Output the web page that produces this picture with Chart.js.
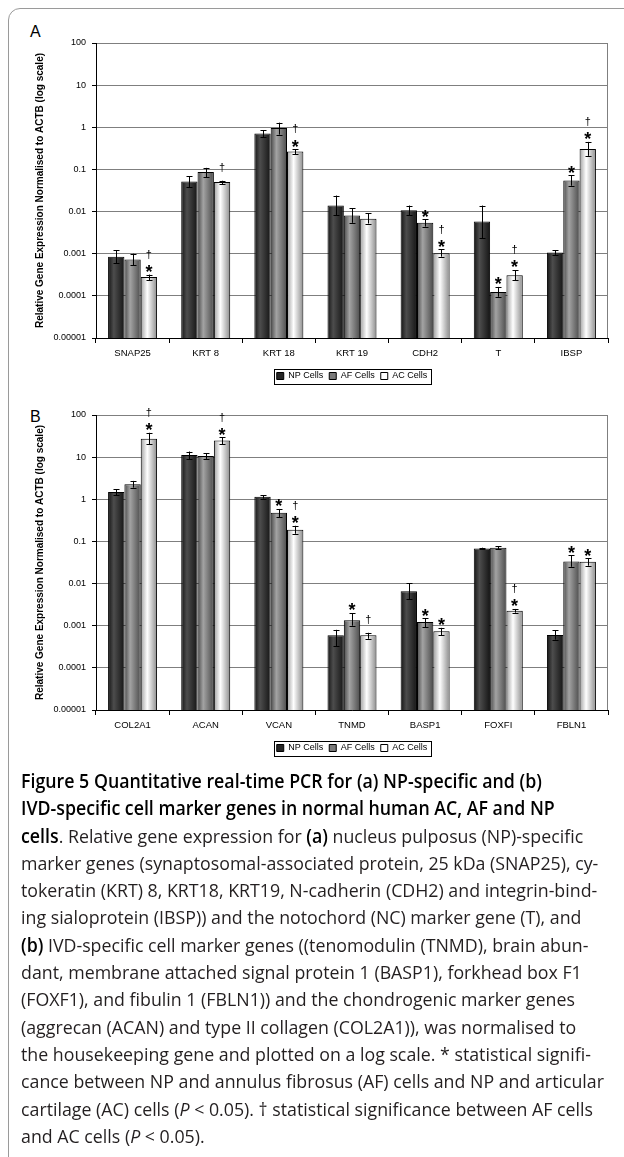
<!DOCTYPE html>
<html>
<head>
<meta charset="utf-8">
<title>Figure 5</title>
<script src="https://cdn.jsdelivr.net/npm/chart.js"></script>
<style>
  html, body { margin: 0; padding: 0; background: #fff; }
  body { width: 624px; height: 1157px; position: relative; overflow: hidden; font-family: "Liberation Sans", Arial, sans-serif; }
  #frame { position: absolute; left: 8px; top: 8px; width: 720px; height: 1200px; border: 1px solid #9a9a9a; border-radius: 12px 0 0 0; box-sizing: border-box; }
  .panel { position: absolute; left: 0; width: 624px; height: 400px; }
  .tag { position: absolute; left: 30px; font-size: 16px; line-height: 1; color: #000; }
  #caption { position: absolute; left: 21px; top: 768px; transform-origin: 0 0; font-family: "Open Sans", "Noto Sans", sans-serif; font-size: 19px; line-height: 27.3px; color: #231f20; white-space: nowrap; }
  #caption b { font-weight: 600; color: #000; }
</style>
</head>
<body>
<div id="frame"></div>

<div class="tag" style="top:24px">A</div>
<div class="panel" style="top:0"><canvas id="chartA"></canvas></div>

<div class="tag" style="top:409px">B</div>
<div class="panel" style="top:372px"><canvas id="chartB"></canvas></div>

<div id="caption">
  <div><b>Figure 5 Quantitative real-time PCR for (a) NP-specific and (b)</b></div>
  <div><b>IVD-specific cell marker genes in normal human AC, AF and NP</b></div>
  <div><b>cells</b>. Relative gene expression for <b>(a)</b> nucleus pulposus (NP)-specific</div>
  <div>marker genes (synaptosomal-associated protein, 25 kDa (SNAP25), cy-</div>
  <div>tokeratin (KRT) 8, KRT18, KRT19, N-cadherin (CDH2) and integrin-bind-</div>
  <div>ing sialoprotein (IBSP)) and the notochord (NC) marker gene (T), and</div>
  <div><b>(b)</b> IVD-specific cell marker genes ((tenomodulin (TNMD), brain abun-</div>
  <div>dant, membrane attached signal protein 1 (BASP1), forkhead box F1</div>
  <div>(FOXF1), and fibulin 1 (FBLN1)) and the chondrogenic marker genes</div>
  <div>(aggrecan (ACAN) and type II collagen (COL2A1)), was normalised to</div>
  <div>the housekeeping gene and plotted on a log scale. * statistical signifi-</div>
  <div id="longLine">cance between NP and annulus fibrosus (AF) cells and NP and articular</div>
  <div>cartilage (AC) cells (<i>P</i> &lt; 0.05). † statistical significance between AF cells</div>
  <div>and AC cells (<i>P</i> &lt; 0.05).</div>
</div>

<script>
// y axis (log) ticks
const tickValues = [0.00001, 0.0001, 0.001, 0.01, 0.1, 1, 10, 100];
const tickLabels = ['0.00001', '0.0001', '0.001', '0.01', '0.1', '1', '10', '100'];
const seriesNames = ['NP Cells', 'AF Cells', 'AC Cells'];

// panel A - NP-specific markers
const genesA = ['SNAP25', 'KRT 8', 'KRT 18', 'KRT 19', 'CDH2', 'T', 'IBSP'];
const npA = [0.00085, 0.052, 0.71, 0.0139, 0.0108, 0.0058, 0.00107];
const afA = [0.00073, 0.087, 0.96, 0.0081, 0.0054, 0.000123, 0.0546];
const acA = [0.00028, 0.050, 0.265, 0.0068, 0.00103, 0.00031, 0.306];
// error bar ends [low, high]
const npErrA = [[0.00059, 0.00122], [0.038, 0.068], [0.59, 0.86], [0.0081, 0.024], [0.0082, 0.0139], [0.0023, 0.0139], [0.00094, 0.00122]];
const afErrA = [[0.00053, 0.001], [0.066, 0.109], [0.67, 1.29], [0.0054, 0.0119], [0.0044, 0.0066], [0.000095, 0.000163], [0.041, 0.073]];
const acErrA = [[0.000234, 0.00032], [0.045, 0.054], [0.23, 0.30], [0.0052, 0.0092], [0.00085, 0.00126], [0.000234, 0.00041], [0.21, 0.45]];
const npSigA = ['', '', '', '', '', '', ''];
const afSigA = ['', '', '', '', '*', '*', '*'];
const acSigA = ['*†', '†', '*†', '', '*†', '*†', '*†'];

// panel B - IVD-specific and chondrogenic markers
const genesB = ['COL2A1', 'ACAN', 'VCAN', 'TNMD', 'BASP1', 'FOXFI', 'FBLN1'];
const npB = [1.49, 11.2, 1.15, 0.00059, 0.0066, 0.068, 0.0006];
const afB = [2.27, 10.6, 0.48, 0.00135, 0.00122, 0.0706, 0.0336];
const acB = [27.3, 24.9, 0.189, 0.00059, 0.00074, 0.00225, 0.033];
const npErrB = [[1.26, 1.73], [8.95, 13.6], [1.04, 1.26], [0.00033, 0.0008], [0.0043, 0.0102], [0.066, 0.071], [0.00047, 0.00078]];
const afErrB = [[1.89, 2.73], [9.1, 12.4], [0.37, 0.59], [0.001, 0.002], [0.00093, 0.0015], [0.065, 0.077], [0.025, 0.0467]];
const acErrB = [[20.4, 37.9], [20.4, 29.3], [0.152, 0.235], [0.00049, 0.00068], [0.0006, 0.00089], [0.00204, 0.0025], [0.0265, 0.0396]];
const npSigB = ['', '', '', '', '', '', ''];
const afSigB = ['', '', '*', '*', '*', '', '*'];
const acSigB = ['*†', '*†', '*†', '†', '*', '*†', '*'];

const CAT_PCT = 0.67;
const FONT = '"Liberation Sans", Arial, sans-serif';

// cylinder-like shading, left to right across each bar
const shades = [
    [[0, '#141414'], [0.35, '#4d4d4d'], [1, '#151515']],
    [[0, '#4a4a4a'], [0.35, '#a3a3a3'], [1, '#4c4c4c']],
    [[0, '#a0a0a0'], [0.4, '#ffffff'], [1, '#8c8c8c']]
];
const legendFill = ['#262626', '#7a7a7a', '#ffffff'];

function barFill(i) {
    return function (c) {
        let xs = c.chart.scales.x;
        if (c.type !== 'data' || !xs || !xs.width) return legendFill[i];
        let n = c.chart.data.labels.length;
        let group = xs.width / n * CAT_PCT;
        let slot = group / c.chart.data.datasets.length;
        let left = xs.getPixelForValue(c.dataIndex) - group / 2 + slot * i;
        let g = c.chart.ctx.createLinearGradient(left, 0, left + slot, 0);
        shades[i].forEach(s => g.addColorStop(s[0], s[1]));
        return g;
    };
}

// grey right edge of the plot area
const plotEdge = {
    id: 'plotEdge',
    beforeDatasetsDraw(chart) {
        let a = chart.chartArea, ctx = chart.ctx;
        ctx.save();
        ctx.strokeStyle = '#7f7f7f';
        ctx.lineWidth = 1;
        ctx.beginPath();
        ctx.moveTo(Math.round(a.right) - 0.5, a.top);
        ctx.lineTo(Math.round(a.right) - 0.5, a.bottom);
        ctx.stroke();
        ctx.restore();
    }
};

// error bars and significance marks
const errorBars = {
    id: 'errorBars',
    afterDatasetsDraw(chart) {
        let ctx = chart.ctx, ys = chart.scales.y;
        ctx.save();
        ctx.strokeStyle = '#000';
        ctx.fillStyle = '#000';
        ctx.lineWidth = 1;
        chart.data.datasets.forEach((ds, i) => {
            chart.getDatasetMeta(i).data.forEach((bar, j) => {
                let lo = ys.getPixelForValue(ds.errs[j][0]);
                let hi = ys.getPixelForValue(ds.errs[j][1]);
                let x = Math.round(bar.x) + 0.5;
                ctx.beginPath();
                ctx.moveTo(x, hi); ctx.lineTo(x, lo);
                ctx.moveTo(x - 3, Math.round(hi) + 0.5); ctx.lineTo(x + 3, Math.round(hi) + 0.5);
                ctx.moveTo(x - 3, Math.round(lo) + 0.5); ctx.lineTo(x + 3, Math.round(lo) + 0.5);
                ctx.stroke();

                let sig = ds.sigs[j];
                ctx.textAlign = 'center';
                ctx.textBaseline = 'alphabetic';
                if (sig.indexOf('*') >= 0) {
                    ctx.font = 'bold 18px ' + FONT;
                    ctx.fillText('*', bar.x, hi - 7 + 0.58 * 18);
                }
                if (sig.indexOf('†') >= 0) {
                    let yc = sig.indexOf('*') >= 0 ? hi - 20 : hi - 13;
                    ctx.font = '11px ' + FONT;
                    ctx.fillText('†', bar.x, yc + 0.28 * 11);
                }
            });
        });
        ctx.restore();
    }
};

// thin box round the legend, like the spreadsheet one
const legendBox = {
    id: 'legendBox',
    afterDraw(chart) {
        let boxes = chart.legend.legendHitBoxes;
        if (!boxes || !boxes.length) return;
        let l = Math.min(...boxes.map(b => b.left)) - 3;
        let r = Math.max(...boxes.map(b => b.left + b.width)) + 3;
        let t = boxes[0].top - 3;
        let h = boxes[0].height + 6;
        let ctx = chart.ctx;
        ctx.save();
        ctx.strokeStyle = '#000';
        ctx.lineWidth = 1;
        ctx.strokeRect(Math.round(l) + 0.5, Math.round(t) + 0.5, Math.round(r - l), Math.round(h));
        ctx.restore();
    }
};

function makeChart(id, labels, values, errs, sigs) {
    return new Chart(document.getElementById(id), {
        type: 'bar',
        data: {
            labels: labels,
            datasets: values.map((v, i) => ({
                label: seriesNames[i],
                data: v,
                errs: errs[i],
                sigs: sigs[i],
                backgroundColor: barFill(i),
                borderColor: '#000',
                borderWidth: 1,
                barPercentage: 1,
                categoryPercentage: CAT_PCT
            }))
        },
        options: {
            responsive: true,
            maintainAspectRatio: false,
            animation: false,
            layout: { padding: { top: 43, right: 16, bottom: 9.5, left: 0 } },
            plugins: {
                legend: {
                    position: 'bottom',
                    fullSize: false,
                    labels: {
                        font: { family: FONT, size: 9 },
                        color: '#000',
                        boxWidth: 7,
                        boxHeight: 7,
                        padding: 6,
                        generateLabels: chart => chart.data.datasets.map((ds, i) => ({
                            text: ds.label,
                            fillStyle: legendFill[i],
                            strokeStyle: '#000',
                            lineWidth: 1,
                            fontColor: '#000',
                            hidden: false,
                            datasetIndex: i
                        }))
                    }
                },
                tooltip: { enabled: false }
            },
            scales: {
                x: {
                    grid: { offset: true, drawOnChartArea: false, color: '#000', tickLength: 5 },
                    border: { color: '#000' },
                    ticks: { font: { family: FONT, size: 9.5 }, color: '#000', padding: 5, maxRotation: 0, autoSkip: false },
                    afterFit: s => { s.height = 27.5; }
                },
                y: {
                    type: 'logarithmic',
                    min: 0.00001,
                    max: 100,
                    afterBuildTicks: s => { s.ticks = tickValues.map(v => ({ value: v })); },
                    grid: { color: '#7f7f7f', tickColor: '#000', tickLength: 4 },
                    border: { color: '#000' },
                    ticks: {
                        font: { family: FONT, size: 9 },
                        color: '#000',
                        padding: 6,
                        callback: v => tickLabels[tickValues.indexOf(v)]
                    },
                    title: {
                        display: true,
                        text: 'Relative Gene Expression Normalised to ACTB (log scale)',
                        font: { family: FONT, size: 10, weight: 'bold' },
                        color: '#000',
                        padding: { top: 34, bottom: 0 }
                    },
                    afterFit: s => { s.width = 96; }
                }
            }
        },
        plugins: [plotEdge, errorBars, legendBox]
    });
}

makeChart('chartA', genesA, [npA, afA, acA], [npErrA, afErrA, acErrA], [npSigA, afSigA, acSigA]);
makeChart('chartB', genesB, [npB, afB, acB], [npErrB, afErrB, acErrB], [npSigB, afSigB, acSigB]);

// squeeze the caption to the column width of the original
function fitCaption() {
    let cap = document.getElementById('caption');
    let line = document.getElementById('longLine');
    let probe = document.createElement('span');
    probe.textContent = line.textContent;
    line.textContent = '';
    line.appendChild(probe);
    let w = probe.getBoundingClientRect().width;
    cap.style.transform = 'scaleX(' + (583 / w) + ')';
}
document.fonts.ready.then(fitCaption);
</script>
</body>
</html>
